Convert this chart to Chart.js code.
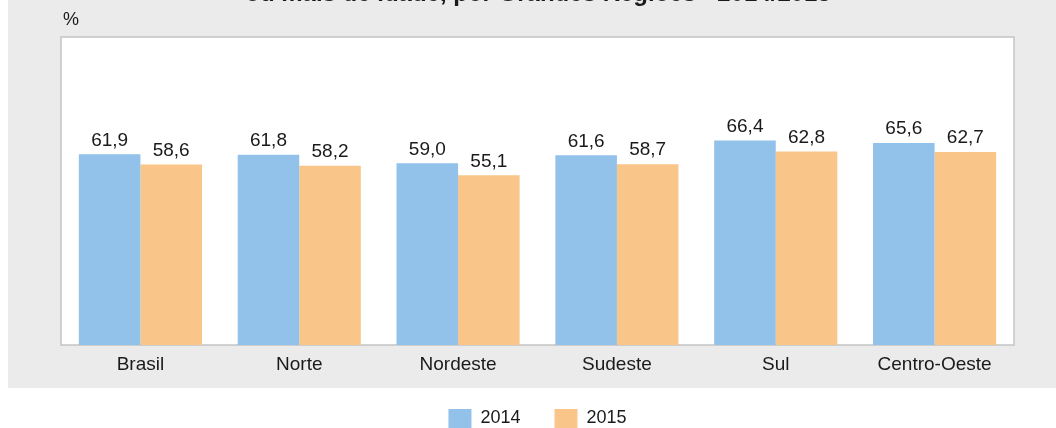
<!DOCTYPE html>
<html>
<head>
<meta charset="utf-8">
<script src="https://cdn.jsdelivr.net/npm/chart.js@4"></script>
<style>
  body { margin: 0; background: #fff; }
  #wrap { width: 1056px; height: 428px; position: relative; }
</style>
</head>
<body>
<div id="wrap"><canvas id="chart"></canvas></div>
<script>
// regions and values (%)
const regions = ['Brasil', 'Norte', 'Nordeste', 'Sudeste', 'Sul', 'Centro-Oeste'];
const values2014 = [61.9, 61.8, 59.0, 61.6, 66.4, 65.6];
const values2015 = [58.6, 58.2, 55.1, 58.7, 62.8, 62.7];
const seriesNames = ['2014', '2015'];
const titleText = 'ou mais de idade, por Grandes Regiões - 2014/2015';
const unitText = '%';

const textColor = '#1a1a1a';
const fontFamily = '"Liberation Sans", Arial, sans-serif';

// gray panel, white plot box, cut-off title and % label
const backdrop = {
  id: 'backdrop',
  beforeDraw(chart) {
    const { ctx, chartArea: a } = chart;
    ctx.save();
    ctx.fillStyle = '#ebebeb';
    ctx.fillRect(8, 0, chart.width - 8, 388);
    ctx.fillStyle = '#fff';
    ctx.fillRect(a.left, a.top, a.right - a.left, a.bottom - a.top);
    ctx.strokeStyle = '#c4c4c4';
    ctx.lineWidth = 1.5;
    ctx.strokeRect(a.left, a.top, a.right - a.left, a.bottom - a.top);
    ctx.fillStyle = textColor;
    ctx.font = 'bold 24px ' + fontFamily;
    ctx.textAlign = 'center';
    ctx.textBaseline = 'alphabetic';
    ctx.fillText(titleText, 538, 1);
    ctx.font = '18px ' + fontFamily;
    ctx.textAlign = 'left';
    ctx.textBaseline = 'middle';
    ctx.fillText(unitText, 63, 20);
    ctx.restore();
  }
};

// value labels above bars
const barLabels = {
  id: 'barLabels',
  afterDatasetsDraw(chart) {
    const { ctx } = chart;
    ctx.save();
    ctx.fillStyle = textColor;
    ctx.font = '19px ' + fontFamily;
    ctx.textAlign = 'center';
    ctx.textBaseline = 'middle';
    chart.data.datasets.forEach((ds, i) => {
      chart.getDatasetMeta(i).data.forEach((bar, j) => {
        ctx.fillText(ds.data[j].toFixed(1).replace('.', ','), bar.x, bar.y - 14);
      });
    });
    ctx.restore();
  }
};

new Chart(document.getElementById('chart'), {
  type: 'bar',
  data: {
    labels: regions,
    datasets: [
      { label: seriesNames[0], data: values2014, backgroundColor: '#92c1e9', borderWidth: 0 },
      { label: seriesNames[1], data: values2015, backgroundColor: '#f9c588', borderWidth: 0 }
    ]
  },
  options: {
    responsive: true,
    maintainAspectRatio: false,
    animation: false,
    categoryPercentage: 0.775,
    barPercentage: 1,
    layout: { padding: { left: 61, right: 42, top: 37, bottom: -10 } },
    scales: {
      x: {
        grid: { display: false, drawTicks: false, tickLength: 0 },
        border: { display: false },
        ticks: { color: textColor, font: { family: fontFamily, size: 19 }, padding: 8 },
        afterFit(scale) { scale.height = 30; }
      },
      y: { display: false, min: 0, max: 100 }
    },
    plugins: {
      legend: {
        position: 'bottom',
        labels: {
          boxWidth: 23,
          boxHeight: 19,
          padding: 34,
          color: textColor,
          font: { family: fontFamily, size: 18 }
        }
      },
      tooltip: { enabled: false }
    }
  },
  plugins: [backdrop, barLabels]
});
</script>
</body>
</html>
